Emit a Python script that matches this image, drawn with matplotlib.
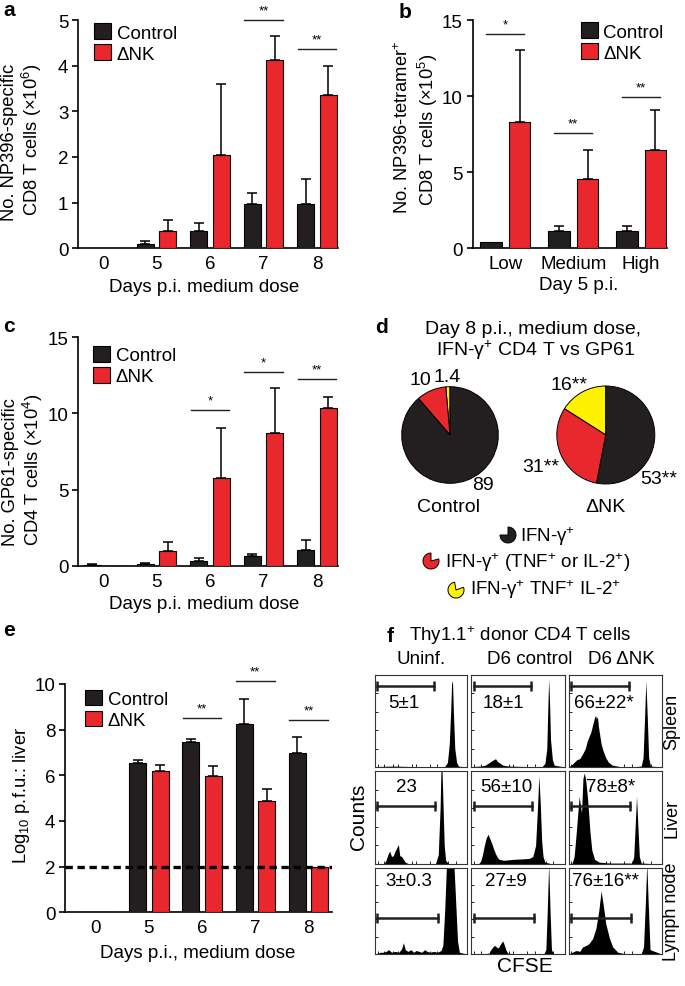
import numpy as np
import matplotlib
matplotlib.use('Agg')
import matplotlib.pyplot as plt
from matplotlib.patches import Wedge, Patch

plt.rcParams['font.family'] = ['Liberation Sans', 'DejaVu Sans']
plt.rcParams['mathtext.fontset'] = 'custom'
plt.rcParams['mathtext.rm'] = 'Liberation Sans'
plt.rcParams['mathtext.it'] = 'Liberation Sans:italic'
plt.rcParams['mathtext.bf'] = 'Liberation Sans:bold'

# ---------------- data ----------------
days = ['0', '5', '6', '7', '8']
a_ctrl = [0.01, 0.10, 0.37, 0.98, 0.98]
a_ctrl_top = [0.01, 0.16, 0.55, 1.22, 1.51]
a_dnk = [0.0, 0.38, 2.05, 4.12, 3.35]
a_dnk_top = [0.0, 0.63, 3.59, 4.64, 3.99]
a_sig = [(3, 5.0, '**'), (4, 4.36, '**')]

doses = ['Low', 'Medium', 'High']
b_ctrl = [0.44, 1.16, 1.12]
b_ctrl_top = [0.44, 1.44, 1.49]
b_dnk = [8.33, 4.55, 6.49]
b_dnk_top = [13.0, 6.47, 9.07]
b_sig = [(0, 14.1, '*'), (1, 7.6, '**'), (2, 9.97, '**')]

c_ctrl = [0.07, 0.10, 0.30, 0.66, 1.00]
c_ctrl_top = [0.10, 0.20, 0.50, 0.80, 1.70]
c_dnk = [0.0, 0.96, 5.73, 8.69, 10.38]
c_dnk_top = [0.0, 1.53, 9.02, 11.67, 11.06]
c_sig = [(2, 10.25, '*'), (3, 12.7, '*'), (4, 12.26, '**')]

e_ctrl = [0.0, 6.54, 7.45, 8.25, 6.98]
e_ctrl_top = [0.0, 6.69, 7.59, 9.34, 7.66]
e_dnk = [0.0, 6.18, 5.96, 4.88, 1.97]
e_dnk_top = [0.0, 6.47, 6.42, 5.40, 1.97]
e_sig = [(2, 8.53, '**'), (3, 10.12, '**'), (4, 8.44, '**')]
e_limit = 2.0

pie_ctrl = [1.4, 10, 89]      # yellow, red, black
pie_dnk = [16, 31, 53]

# panel f histograms (CFSE position %, counts %)
hist_x = {
    (0, 0): [0, 20, 40, 60, 76, 79, 81, 82.5, 83.5, 84.5, 85.5, 87, 89, 91, 100],
    (0, 1): [0, 10, 15, 18, 21, 24, 26, 28, 31, 34, 40, 60, 76, 79, 81, 82, 83, 84, 85, 87, 89, 100],
    (0, 2): [0, 3, 6, 9, 12, 15, 18, 20, 22, 24, 26, 27, 28, 29, 30, 31, 32, 33, 35, 37, 40, 43, 47, 55,
             70, 78, 80, 81.5, 83, 84.5, 86, 88, 100],
    (1, 0): [0, 10, 12, 14, 16, 18, 20, 22, 24, 25.5, 27, 29, 31, 33, 36, 50, 66, 69, 71, 72, 73, 74,
             75.5, 77, 80, 100],
    (1, 1): [0, 8, 10, 12, 14, 16, 18, 20, 22, 24, 26, 28, 30, 35, 45, 55, 62, 66, 69, 71, 72.5, 74,
             75.5, 77, 79, 85, 100],
    (1, 2): [0, 4, 6, 8, 10, 11.5, 12.5, 14, 15.5, 17, 18.5, 20.5, 23, 25, 28, 33, 45, 60, 68, 70,
             71.5, 73, 74.5, 76, 78, 100],
    (2, 0): [0, 3, 6, 9, 12, 15, 18, 22, 26, 29, 31, 33, 36, 39, 42, 45, 48, 51, 54, 57, 60, 64, 68,
             72, 74, 76, 78, 80, 83, 86, 88, 90, 92, 100],
    (2, 1): [0, 15, 19, 21, 23, 25, 27, 29, 31, 33, 34, 35.5, 37, 39, 45, 70, 78, 80, 81.5, 83, 84.5,
             86, 88, 100],
    (2, 2): [0, 4, 8, 12, 15, 19, 22, 26, 29.5, 32.5, 35, 37.5, 40, 44, 47.5, 53, 60, 78, 80.5, 82.5,
             84, 85.5, 87.5, 100],
}
hist_y = {
    (0, 0): [0.5, 1, 0.5, 0.5, 0.5, 5, 25, 60, 90, 94, 60, 20, 5, 1, 0],
    (0, 1): [0.5, 1, 2, 4, 6, 8, 9, 6, 4, 2, 1, 0.5, 0.5, 4, 20, 60, 96, 70, 30, 8, 2, 0],
    (0, 2): [0, 2, 5, 8, 9, 14, 20, 28, 33, 38, 46, 50, 54, 56, 52, 55, 45, 38, 25, 18, 10, 5, 2, 0.5,
             0.3, 1, 10, 50, 94, 55, 10, 1, 0],
    (1, 0): [0, 0.5, 4, 10, 14, 8, 9, 14, 18, 21, 9, 8, 5, 2, 0.5, 0.3, 0.5, 10, 60, 105, 105, 70,
             20, 4, 0.5, 0],
    (1, 1): [0, 0.5, 3, 10, 20, 28, 32, 27, 22, 16, 11, 7, 5, 4, 5, 5.5, 6, 8, 20, 60, 95, 65, 25, 8,
             2, 0.5, 0],
    (1, 2): [0, 1, 8, 30, 55, 73, 65, 55, 92, 98, 90, 70, 35, 15, 5, 2, 1, 1, 1, 8, 40, 73, 40, 8,
             1, 0],
    (2, 0): [0, 1, 2, 2, 3, 5, 2, 3, 2, 6, 13, 5, 3, 5, 2, 4, 3, 2, 5, 3, 2, 3, 2, 4, 10, 50, 105,
             105, 105, 105, 60, 15, 2, 0],
    (2, 1): [0, 0.5, 1, 5, 8, 10, 8, 7, 11, 14, 15, 10, 5, 1, 0.5, 0.3, 0.5, 5, 50, 105, 50, 5, 0.5, 0],
    (2, 2): [0, 2, 4, 3, 8, 10, 12, 18, 30, 50, 73, 55, 35, 18, 8, 2, 0.5, 0.5, 8, 60, 105, 60, 5, 0],
}
gates = {
    (0, 0): (2, 64, 88), (0, 1): (2.5, 63.6, 88), (0, 2): (2.5, 65, 88),
    (1, 0): (2, 65.5, 62.5), (1, 1): (2.5, 65, 62.5), (1, 2): (2.5, 65.7, 62.5),
    (2, 0): (2, 69, 42), (2, 1): (2.5, 67, 42), (2, 2): (2.5, 67, 42),
}
gate_text = {
    (0, 0): (31, 70, '5±1'), (0, 1): (34, 70, '18±1'), (0, 2): (38, 70, '66±22*'),
    (1, 0): (34.5, 83, '23'), (1, 1): (37.5, 83, '56±10'), (1, 2): (45, 83, '78±8*'),
    (2, 0): (36.5, 85, '3±0.3'), (2, 1): (37, 85, '27±9'), (2, 2): (40, 85, '76±16**'),
}
f_cols = ['Uninf.', 'D6 control', 'D6 ΔNK']
f_rows = ['Spleen', 'Liver', 'Lymph node']

# ---------------- figure ----------------
W, H = 685, 987
fig = plt.figure(figsize=(W / 100, H / 100), dpi=100)
BLACK = '#231f20'
RED = '#e8282c'
YELLOW = '#fff200'
FS = 13.5


def ax_px(x0, y0, x1, y1):
    return fig.add_axes([x0 / W, 1 - y1 / H, (x1 - x0) / W, (y1 - y0) / H])


def T(x, y, s, **kw):
    kw.setdefault('ha', 'center')
    kw.setdefault('va', 'center')
    kw.setdefault('fontsize', FS)
    return fig.text(x / W, 1 - y / H, s, **kw)


def bar_panel(rect, labels, ctrl, ctrl_top, dnk, dnk_top, xlim, ymax, yticks, sig,
              sig_half, leg_anchor, width=0.32, off=0.21):
    ax = ax_px(*rect)
    x = np.arange(len(labels))
    ax.bar(x - off, ctrl, width, color=BLACK, edgecolor='black', lw=0.8, zorder=3)
    ax.bar(x + off, dnk, width, color=RED, edgecolor='black', lw=0.8, zorder=3)
    for xs, vals, tops in ((x - off, ctrl, ctrl_top), (x + off, dnk, dnk_top)):
        for xi, v, t in zip(xs, vals, tops):
            if t > v:
                ax.errorbar([xi], [v], yerr=[[0], [t - v]], fmt='none', ecolor='black',
                            elinewidth=1.1, capsize=3.5, capthick=1.1, zorder=2)
    for cat, y, txt in sig:
        ax.plot([cat - sig_half, cat + sig_half], [y, y], color=BLACK, lw=1.0, clip_on=False)
        ax.annotate(txt, (cat, y), xytext=(0, 2.5), textcoords='offset points', ha='center',
                    va='bottom', fontsize=9.5, annotation_clip=False)
    ax.set_xlim(*xlim)
    ax.set_ylim(0, ymax)
    ax.set_yticks(yticks)
    ax.set_xticks(x)
    ax.set_xticklabels(labels)
    for s in ('top', 'right'):
        ax.spines[s].set_visible(False)
    for s in ('left', 'bottom'):
        ax.spines[s].set_linewidth(1.2)
    ax.tick_params(axis='y', length=4, width=1.2, pad=3, labelsize=13.5)
    ax.tick_params(axis='x', length=0, pad=5, labelsize=13.5)
    handles = [Patch(facecolor=BLACK, edgecolor='black', lw=0.8),
               Patch(facecolor=RED, edgecolor='black', lw=0.8)]
    ax.legend(handles, ['Control', 'ΔNK'], loc='upper left', bbox_to_anchor=leg_anchor,
              frameon=False, fontsize=13.5, handlelength=0.9, handleheight=0.9,
              handletextpad=0.3, labelspacing=0.15, borderpad=0, borderaxespad=0)
    return ax


# panel a
bar_panel((78, 21, 338, 249.3), days, a_ctrl, a_ctrl_top, a_dnk, a_dnk_top,
          (-0.474, 4.395), 5, range(0, 6), a_sig, 0.36, (0.062, 0.985))
T(9, 10, 'a', fontsize=15, fontweight='bold')
T(10, 142, 'No. NP396-specific', rotation=90, fontsize=13.2)
T(32, 140, 'CD8 T cells (×10$^{6}$)', rotation=90, fontsize=13.2)
T(204.5, 288, 'Days p.i. medium dose')

# panel b
bar_panel((472.7, 21, 667, 249.3), doses, b_ctrl, b_ctrl_top, b_dnk, b_dnk_top,
          (-0.48, 2.38), 15, [0, 5, 10, 15], b_sig, 0.28, (0.557, 0.99))
T(405, 12, 'b', fontsize=15, fontweight='bold')
T(403, 127, 'No. NP396-tetramer$^{+}$', rotation=90, fontsize=13.2)
T(428, 130, 'CD8 T cells (×10$^{5}$)', rotation=90, fontsize=13.2)
T(578.5, 286, 'Day 5 p.i.')

# panel c
bar_panel((78, 338.3, 338, 566.7), days, c_ctrl, c_ctrl_top, c_dnk, c_dnk_top,
          (-0.474, 4.395), 15, [0, 5, 10, 15], c_sig, 0.36, (0.058, 0.962))
T(9, 326, 'c', fontsize=15, fontweight='bold')
T(10.5, 472, 'No. GP61-specific', rotation=90, fontsize=13.2)
T(32.5, 470, 'CD4 T cells (×10$^{4}$)', rotation=90, fontsize=13.2)
T(204.5, 605, 'Days p.i. medium dose')

# panel e
axe = bar_panel((65, 685, 332, 913.3), days, e_ctrl, e_ctrl_top, e_dnk, e_dnk_top,
                (-0.575, 4.44), 10, range(0, 11, 2), e_sig, 0.36, (0.075, 0.975))
axe.axhline(e_limit, color='black', lw=2.4, ls=(0, (2.2, 1.4)), zorder=4)
T(9, 630, 'e', fontsize=15, fontweight='bold')
T(21.7, 795.5, 'Log$_{10}$ p.f.u.: liver', rotation=90, fontsize=13.2)
T(198, 954, 'Days p.i., medium dose')

# panel d (pies) on an overlay in pixel coordinates
ov = fig.add_axes([0, 0, 1, 1])
ov.pie(pie_ctrl, colors=[YELLOW, RED, BLACK], startangle=90, counterclock=True,
       center=(450, H - 436), radius=48.3, frame=True,
       wedgeprops=dict(edgecolor='black', linewidth=0.7))
ov.pie(pie_dnk, colors=[YELLOW, RED, BLACK], startangle=90, counterclock=True,
       center=(605.8, H - 436), radius=49, frame=True,
       wedgeprops=dict(edgecolor='black', linewidth=0.7))
# legend icons
for (cx, cy), col, t1, t2 in (((508, 536), BLACK, 180, 450), ((431, 562), RED, 90, 375),
                              ((456, 591), YELLOW, 100, 380)):
    ov.add_patch(Wedge((cx, H - cy), 8, t1, t2, facecolor=col, edgecolor='black', lw=0.7))
ov.set_xlim(0, W)
ov.set_ylim(0, H)
ov.set_autoscale_on(False)
ov.axis('off')

T(381, 328, 'd', fontsize=15, fontweight='bold')
T(533, 330, 'Day 8 p.i., medium dose,', fontsize=14)
T(536, 350, 'IFN-γ$^{+}$ CD4 T vs GP61', fontsize=14)
T(420, 381, '10', fontsize=14)
T(447, 378, '1.4', fontsize=14)
T(483, 485, '89', fontsize=14)
T(448, 508, 'Control', fontsize=14)
T(569, 385, '16**', fontsize=14)
T(541, 467, '31**', fontsize=14)
T(659, 480, '53**', fontsize=14)
T(605, 508, 'ΔNK', fontsize=14)
T(520, 536.5, 'IFN-γ$^{+}$', ha='left', fontsize=13.5)
T(445, 563, 'IFN-γ$^{+}$ (TNF$^{+}$ or IL-2$^{+}$)', ha='left', fontsize=13.5)
T(470, 590, 'IFN-γ$^{+}$ TNF$^{+}$ IL-2$^{+}$', ha='left', fontsize=13.5)

# panel f
col_x = [(375, 466.7), (471.3, 564.5), (568.5, 661.7)]
row_y = [(676, 768), (772, 865), (868.5, 955)]
for r, (y0, y1) in enumerate(row_y):
    for c, (x0, x1) in enumerate(col_x):
        ax = ax_px(x0, y0, x1, y1)
        hx = hist_x[(r, c)]
        hy = hist_y[(r, c)]
        ax.fill_between(hx, 0, hy, color='black', lw=0)
        gx0, gx1, gy = gates[(r, c)]
        ax.plot([gx0, gx1], [gy, gy], color=BLACK, lw=1.8)
        ax.plot([gx0, gx1], [gy, gy], ls='none', marker='|', ms=7, mew=1.8, color=BLACK)
        tx, ty, tt = gate_text[(r, c)]
        ax.text(tx, ty, tt, ha='center', va='center', fontsize=13.5)
        ax.set_xlim(0, 100)
        ax.set_ylim(0, 100)
        ax.set_xticks([3, 10, 20, 25, 40, 45, 60, 68, 80, 88])
        ax.set_yticks([20, 40, 60, 80])
        ax.tick_params(direction='in', length=2, width=0.6, labelbottom=False, labelleft=False)
        for s in ax.spines.values():
            s.set_linewidth(0.8)
            s.set_color('#333333')
T(390, 637, 'f', fontsize=15, fontweight='bold')
T(520, 636, 'Thy1.1$^{+}$ donor CD4 T cells', fontsize=13.5)
for (x0, x1), lab, cxh in zip(col_x, f_cols, [421, 530, 621]):
    T(cxh, 659, lab, fontsize=13.5)
for (y0, y1), lab in zip(row_y, f_rows):
    T(672, (y0 + y1) / 2, lab, rotation=90, fontsize=13)
T(358, 817, 'Counts', rotation=90, fontsize=15)
T(525, 967, 'CFSE', fontsize=15)

fig.savefig('out.png', dpi=100)
